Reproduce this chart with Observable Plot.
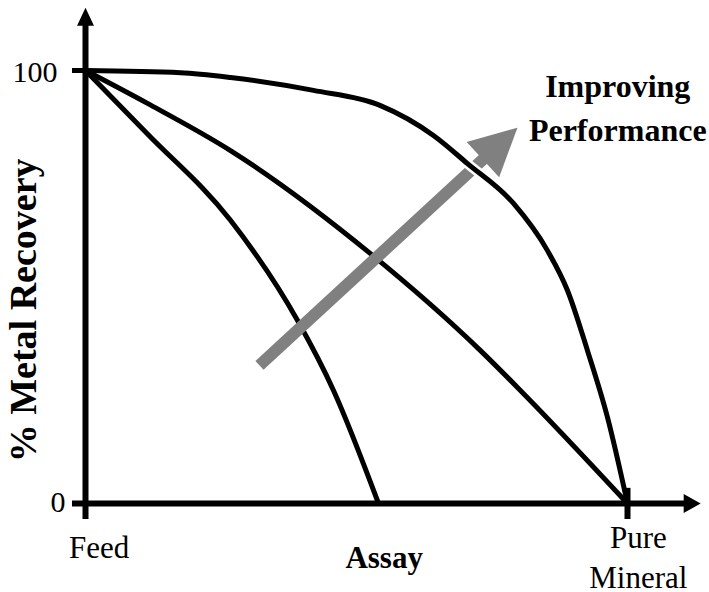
<!DOCTYPE html>
<html>
<head>
<meta charset="utf-8">
<script src="https://cdn.jsdelivr.net/npm/d3@7"></script>
<script src="https://cdn.jsdelivr.net/npm/@observablehq/plot@0.6"></script>
<style>
  html, body { margin: 0; padding: 0; background: #fff; }
  svg { display: block; }
</style>
</head>
<body>
<div id="chart"></div>
<script>
// ---- Data (assay as fraction of Feed→Pure Mineral, recovery in %) ----
const assayLow = [0, 0.114, 0.2675, 0.391, 0.4576, 0.5406];
const recoveryLow = [100, 85.4, 65.4, 42.3, 26.1, 0];

const assayMid = [0, 0.1144, 0.2675, 0.5258, 0.7288, 0.797, 1];
const recoveryMid = [100, 92.4, 81.5, 57.7, 35.3, 26.8, 0];

const assayHigh = [0, 0.1753, 0.2675, 0.4207, 0.5443, 0.642, 0.7048, 0.7897, 0.8524, 0.8893, 0.9262, 0.9631, 1];
const recoveryHigh = [100, 99.5, 98.4, 95.4, 91.9, 85.0, 78.5, 69.3, 58.4, 49.2, 35.3, 19.9, 0];

const yTickValues = [100, 0];
const yTickLabels = ["100", "0"];
const xEndLabels = ["Feed", "Pure\nMineral"];
const xTitle = "Assay";
const yTitle = "% Metal Recovery";
const annotation = "Improving\nPerformance";

// Performance arrow (tail → tip, in data units)
const arrowTail = [0.321, 31.9];
const arrowTip = [0.797, 86.8];

// ---- Build tables ----
const toRows = (xs, ys, name) => xs.map((x, i) => ({assay: x, recovery: ys[i], series: name}));
const low = toRows(assayLow, recoveryLow, "low");
const mid = toRows(assayMid, recoveryMid, "mid");
const high = toRows(assayHigh, recoveryHigh, "high");

// ---- Layout ----
const W = 709, H = 592;
const mL = 85, mR = 82, mT = 70, mB = 89;
const plotW = W - mL - mR, plotH = H - mT - mB;

// custom arrowhead symbol, tip at the anchor point, pointing "up"
const head = (k) => ({
  draw(context, size) {
    const r = Math.sqrt(size / Math.PI);
    context.moveTo(0, 0);
    context.lineTo(-k * r, r);
    context.lineTo(k * r, r);
    context.closePath();
  }
});

const arrowAngle = Math.atan2((arrowTip[0] - arrowTail[0]) * plotW,
                              (arrowTip[1] - arrowTail[1]) / 100 * plotH) * 180 / Math.PI;
const shaftEnd = [arrowTail[0] + 0.9 * (arrowTip[0] - arrowTail[0]),
                  arrowTail[1] + 0.9 * (arrowTip[1] - arrowTail[1])];

// axis geometry (data units)
const xAxisStart = -0.024, xAxisShaftEnd = 1.11, xAxisTip = 1.135;
const yAxisStart = -3.7, yAxisShaftEnd = 111, yAxisTip = 114.5;

const gray = "#808080";
const FONT = "Times New Roman";
const txt = {fontFamily: FONT};

const chart = Plot.plot({
  width: W,
  height: H,
  marginLeft: mL,
  marginRight: mR,
  marginTop: mT,
  marginBottom: mB,
  x: {domain: [0, 1], axis: null},
  y: {domain: [0, 100], axis: null},
  marks: [
    // curves under the arrow
    Plot.line([...low, ...mid], {x: "assay", y: "recovery", z: "series", stroke: "black", strokeWidth: 5, curve: "monotone-x"}),
    // axes
    Plot.ruleX([0], {y1: yAxisStart, y2: yAxisShaftEnd, stroke: "black", strokeWidth: 6}),
    Plot.ruleY([0], {x1: xAxisStart, x2: xAxisShaftEnd, stroke: "black", strokeWidth: 6}),
    Plot.dot([0], {x: 0, y: yAxisTip, symbol: head(0.47), r: 18, fill: "black", stroke: null}),
    Plot.dot([0], {x: xAxisTip, y: 0, symbol: head(0.56), r: 17, fill: "black", stroke: null, rotate: 90}),
    // ticks
    Plot.ruleY([100], {x1: xAxisStart, x2: 0, stroke: "black", strokeWidth: 5}),
    Plot.ruleX([1], {y1: yAxisStart, y2: 3.5, stroke: "black", strokeWidth: 6}),
    // performance arrow
    Plot.link([0], {x1: arrowTail[0], y1: arrowTail[1], x2: shaftEnd[0], y2: shaftEnd[1], stroke: gray, strokeWidth: 12, strokeLinecap: "butt"}),
    Plot.dot([0], {x: arrowTip[0], y: arrowTip[1], symbol: head(0.51), r: 47, fill: gray, stroke: null, rotate: arrowAngle}),
    // top curve over the arrow head, with a white halo where they cross
    Plot.line(high.filter(d => d.assay > 0.6 && d.assay < 0.86), {x: "assay", y: "recovery", stroke: "white", strokeWidth: 10, curve: "monotone-x"}),
    Plot.line(high, {x: "assay", y: "recovery", stroke: "black", strokeWidth: 5, curve: "monotone-x"}),
    // tick labels
    Plot.text([yTickLabels[0]], {x: 0, y: yTickValues[0], text: d => d, textAnchor: "end", dx: -28, dy: 2, fontSize: 30, ...txt}),
    Plot.text([yTickLabels[1]], {x: 0, y: yTickValues[1], text: d => d, textAnchor: "end", dx: -20, dy: -1, fontSize: 30, ...txt}),
    Plot.text([xEndLabels[0]], {x: 0.025, y: -10.4, text: d => d, fontSize: 31, ...txt}),
    Plot.text([xEndLabels[1]], {x: 1.02, y: -12.0, text: d => d, fontSize: 31, lineHeight: 1.3, ...txt}),
    // axis titles
    Plot.text([xTitle], {x: 0.551, y: -12.5, text: d => d, fontSize: 31, fontWeight: "bold", ...txt}),
    Plot.text([yTitle], {x: -0.113, y: 44.6, text: d => d, fontSize: 38, fontWeight: "bold", rotate: -90, ...txt}),
    // annotation
    Plot.text([annotation], {x: 0.982, y: 91.96, text: d => d, fontSize: 32, fontWeight: "bold", lineHeight: 1.36, ...txt})
  ]
});

document.getElementById("chart").appendChild(chart);
</script>
</body>
</html>
